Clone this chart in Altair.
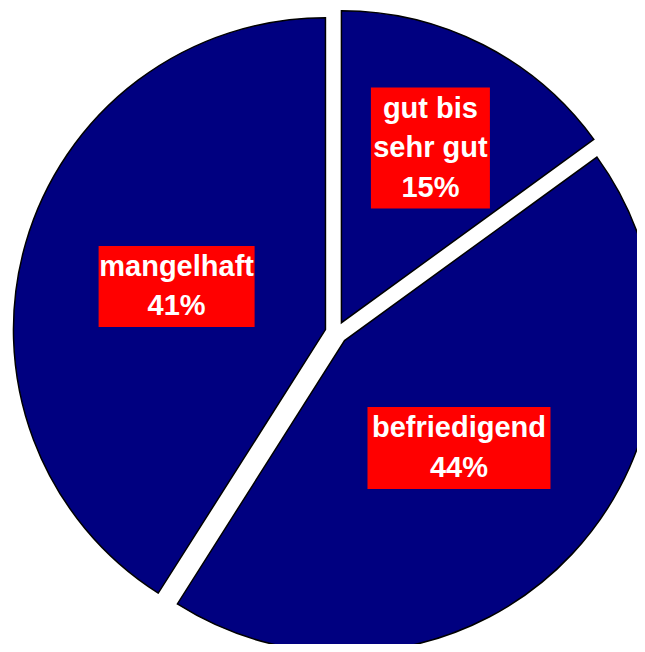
import altair as alt
import pandas as pd

# ---- data ----
categories = ["gut bis sehr gut", "befriedigend", "mangelhaft"]
values = [15, 44, 41]
label_lines = [["gut bis", "sehr gut"], ["befriedigend"], ["mangelhaft"]]

# ---- layout (plot-area pixels) ----
W, H = 629, 636
CX, CY, R, EXPLODE = 328.3, 324.8, 312, 11.3
LINE_H = 39.5
LABEL_DIST = {"gut bis sehr gut": 196, "befriedigend": 157, "mangelhaft": 155}
BOX_W = {"gut bis sehr gut": 119, "befriedigend": 183, "mangelhaft": 156}
BOX_H = {"gut bis sehr gut": 121, "befriedigend": 82, "mangelhaft": 81}


def lookup_expr(d):
    expr = "0"
    for k, v in d.items():
        expr = f"(datum.category === '{k}' ? {v} : {expr})"
    return expr


df = pd.DataFrame({
    "category": categories,
    "value": values,
    "label": ["|".join(l) for l in label_lines],
    "order": list(range(len(categories))),
})

base = (
    alt.Chart(df)
    .transform_joinaggregate(total="sum(value)")
    .transform_window(cum="sum(value)", sort=[alt.SortField("order")], frame=[None, 0])
    .transform_calculate(
        t0="2*PI*(datum.cum - datum.value)/datum.total",
        t1="2*PI*datum.cum/datum.total",
    )
    .transform_calculate(tm="(datum.t0 + datum.t1)/2")
    .transform_calculate(
        ax=f"{CX} + {EXPLODE}*sin(datum.tm)",
        ay=f"{CY} - {EXPLODE}*cos(datum.tm)",
        ld=lookup_expr(LABEL_DIST),
        bw=lookup_expr(BOX_W),
        bh=lookup_expr(BOX_H),
        txt="split(datum.label + '|' + format(datum.value/datum.total, '.0%'), '|')",
    )
    .transform_calculate(
        lx="datum.ax + datum.ld*sin(datum.tm)",
        ly="datum.ay - datum.ld*cos(datum.tm)",
    )
    .transform_calculate(
        bx0="datum.lx - datum.bw/2",
        bx1="datum.lx + datum.bw/2",
        by0="datum.ly - datum.bh/2",
        by1="datum.ly + datum.bh/2",
        ty=f"datum.ly - (length(datum.txt) - 1)*{LINE_H}/2",
    )
)

arcs = base.mark_arc(radius=R, fill="#000080", stroke="black", strokeWidth=1.5).encode(
    x=alt.X("ax:Q", scale=None, axis=None),
    y=alt.Y("ay:Q", scale=None, axis=None),
    theta=alt.Theta("t0:Q", scale=None),
    theta2="t1:Q",
)

boxes = base.mark_rect(fill="#FF0000").encode(
    x=alt.X("bx0:Q", scale=None, axis=None),
    x2="bx1:Q",
    y=alt.Y("by0:Q", scale=None, axis=None),
    y2="by1:Q",
)

texts = base.mark_text(
    font="Liberation Sans", fontWeight="bold", fontSize=29, lineHeight=LINE_H,
    color="white", align="center", baseline="middle",
).encode(
    x=alt.X("lx:Q", scale=None, axis=None),
    y=alt.Y("ty:Q", scale=None, axis=None),
    text=alt.Text("txt:N"),
)

chart = (
    alt.layer(arcs, boxes, texts)
    .properties(width=W, height=H, autosize=alt.AutoSizeParams(type="none"), padding=0)
    .configure_view(strokeWidth=0)
)

chart.save("out.html", embed_options={"renderer": "svg", "actions": False})
